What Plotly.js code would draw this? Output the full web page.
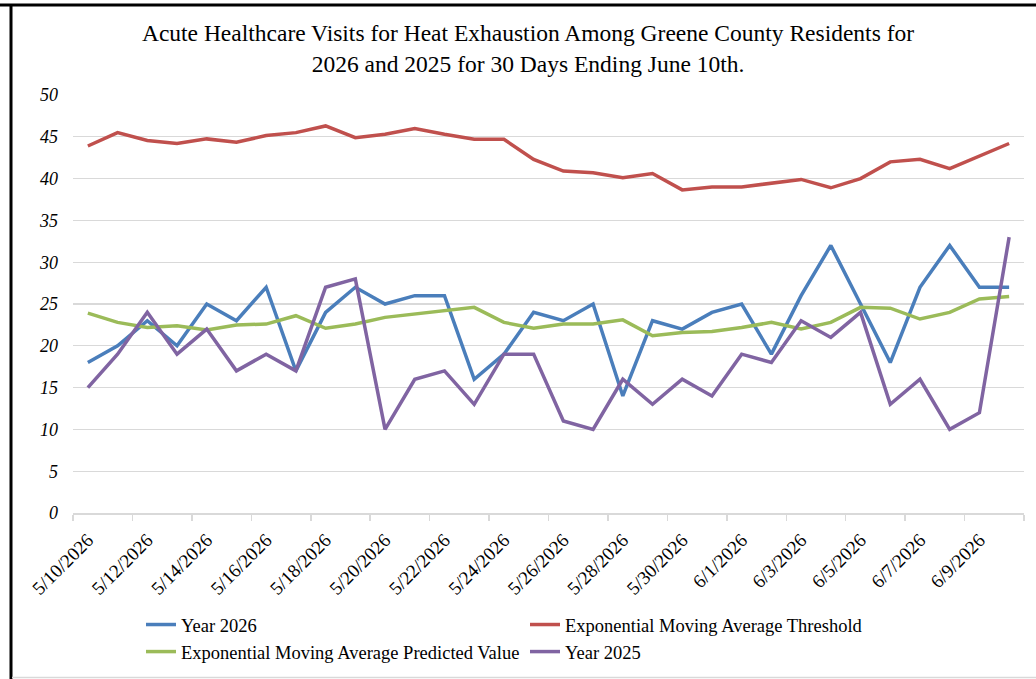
<!DOCTYPE html>
<html>
<head>
<meta charset="utf-8">
<script src="https://cdn.plot.ly/plotly-3.0.1.min.js"></script>
<style>html,body{margin:0;padding:0;background:#fff;}#chart{width:1036px;height:679px;}</style>
</head>
<body>
<div id="chart"></div>
<script>
const dates = ['5/10/2026','5/11/2026','5/12/2026','5/13/2026','5/14/2026','5/15/2026','5/16/2026','5/17/2026',
  '5/18/2026','5/19/2026','5/20/2026','5/21/2026','5/22/2026','5/23/2026','5/24/2026','5/25/2026',
  '5/26/2026','5/27/2026','5/28/2026','5/29/2026','5/30/2026','5/31/2026','6/1/2026','6/2/2026',
  '6/3/2026','6/4/2026','6/5/2026','6/6/2026','6/7/2026','6/8/2026','6/9/2026','6/10/2026'];
const year2026 = [18,20,23,20,25,23,27,17,24,27,25,26,26,16,19,24,23,25,14,23,22,24,25,19,26,32,25,18,27,32,27,27];
const emaThreshold = [43.9,45.5,44.55,44.2,44.75,44.35,45.15,45.5,46.3,44.9,45.3,46.0,45.3,44.7,44.7,42.3,
  40.9,40.7,40.1,40.6,38.65,39.0,39.0,39.4,39.9,38.9,40.0,42.0,42.3,41.2,42.7,44.2];
const emaPredicted = [23.9,22.8,22.2,22.4,21.9,22.5,22.6,23.6,22.1,22.6,23.4,23.8,24.3,24.6,22.8,22.1,
  22.6,22.6,23.1,21.2,21.6,21.7,22.2,22.8,22.0,22.8,24.6,24.5,23.2,24.0,25.6,25.9];
const year2025 = [15,19,24,19,22,17,19,17,27,28,10,16,17,13,19,19,11,10,16,13,16,14,19,18,23,21,24,13,16,10,12,33];
const seriesNames = ['Year 2026','Exponential Moving Average Threshold','Exponential Moving Average Predicted Value','Year 2025'];

const W = 1036, H = 679;
const M = {l: 73, r: 12, t: 95, b: 166};
const idx = dates.map((d, i) => i);
const labelIdx = idx.filter(i => i % 2 === 0);
const boundaryTicks = labelIdx.map(i => i - 0.5).concat([dates.length - 0.5]);

const serif = 'Liberation Serif, Times New Roman, serif';
const mk = (y, name, color) => ({
  x: idx, y: y, name: name, type: 'scatter', mode: 'lines',
  line: {color: color, width: 3.5},
  hoverinfo: 'skip'
});
const data = [
  mk(year2026, seriesNames[0], '#4a7ebb'),
  mk(emaThreshold, seriesNames[1], '#c0504d'),
  mk(emaPredicted, seriesNames[2], '#9bbb59'),
  mk(year2025, seriesNames[3], '#8064a2')
];

const pw = W - M.l - M.r, ph = H - M.t - M.b;
const px = v => (v - M.l) / pw;
const py = v => (H - M.b - v) / ph;

const layout = {
  width: W, height: H,
  margin: M,
  paper_bgcolor: '#ffffff', plot_bgcolor: '#ffffff',
  font: {family: serif, color: '#000000'},
  title: {
    text: 'Acute Healthcare Visits for Heat Exhaustion Among Greene County Residents for<br>2026 and 2025 for 30 Days Ending June 10th.',
    font: {family: serif, size: 23.5, color: '#000000'},
    xref: 'container', x: 528 / W, xanchor: 'center',
    yref: 'container', y: 1 - 41 / H, yanchor: 'top'
  },
  xaxis: {
    range: [-0.5, dates.length - 0.5],
    tickmode: 'array', tickvals: labelIdx, ticktext: labelIdx.map(i => dates[i]),
    tickangle: -45, ticks: '', ticklabelstandoff: 7,
    tickfont: {family: serif, size: 19, color: '#000000'},
    showgrid: false, zeroline: false,
    showline: true, linecolor: '#d9d9d9', linewidth: 1.5,
    minor: {tickmode: 'array', tickvals: boundaryTicks, ticks: 'outside', ticklen: 6, tickcolor: '#d9d9d9', tickwidth: 1.5, showgrid: false}
  },
  yaxis: {
    range: [0, 50], dtick: 5, tick0: 0,
    showgrid: true, gridcolor: '#d9d9d9', gridwidth: 1.3,
    zeroline: false, showline: false, ticks: '',
    ticklabelstandoff: 14,
    tickfont: {family: serif, size: 18, color: '#000000', style: 'italic'}
  },
  showlegend: true,
  legend: {
    orientation: 'h',
    xref: 'container', x: 141 / W, xanchor: 'left',
    yref: 'container', y: 1 - 606 / H, yanchor: 'top',
    entrywidth: 339, entrywidthmode: 'pixels',
    font: {family: serif, size: 18.5, color: '#000000'},
    bgcolor: 'rgba(0,0,0,0)', traceorder: 'normal', itemwidth: 30
  },
  shapes: [
    {type: 'line', xref: 'paper', yref: 'paper', x0: px(0), x1: px(W), y0: py(5), y1: py(5), line: {color: '#000000', width: 3}},
    {type: 'line', xref: 'paper', yref: 'paper', x0: px(11), x1: px(11), y0: py(4), y1: py(H), line: {color: '#000000', width: 3}},
    {type: 'line', xref: 'paper', yref: 'paper', x0: px(12), x1: px(W), y0: py(677.5), y1: py(677.5), line: {color: '#d9d9d9', width: 1.5}}
  ]
};

Plotly.newPlot('chart', data, layout, {displayModeBar: false, staticPlot: true});
</script>
</body>
</html>
